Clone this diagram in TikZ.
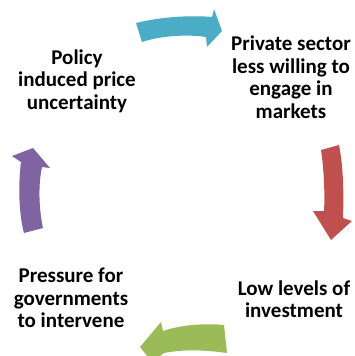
\documentclass[tikz,border=0pt]{standalone}
\usepackage{fontspec}
\setmainfont{Carlito}
\definecolor{cteal}{HTML}{4BACC6}
\definecolor{cred}{HTML}{C0504D}
\definecolor{cgreen}{HTML}{9BBB59}
\definecolor{cpurple}{HTML}{8064A2}
\tikzset{
  lbl/.style={align=center, font=\bfseries\fontsize{21}{22.5}\selectfont, inner sep=0pt},
}
\begin{document}
\begin{tikzpicture}[x=1pt,y=-1pt]
\useasboundingbox (0,0) rectangle (354,356);
\clip (0,0) rectangle (354,356);
% top arrow
\fill[cteal] (136,23) .. controls (160,17) and (190,15) .. (212,17) -- (214,9) -- (222,31) -- (207,47) -- (206,37) .. controls (185,34) and (160,36) .. (142,42) -- cycle;
% right arrow
\fill[cred] (321,150) .. controls (324,170) and (325,195) .. (324,211) -- (313,211) -- (331,240) -- (352,221) -- (343,218) .. controls (344,190) and (343,165) .. (339,145) -- cycle;
% bottom arrow
\fill[cgreen] (224,325) .. controls (205,323) and (180,325) .. (163,331) -- (161,322) -- (140,347) -- (152,362) -- (164,353) .. controls (185,349) and (205,350) .. (227,353) -- cycle;
% left arrow
\fill[cpurple] (24,233) .. controls (19,215) and (18,185) .. (21,162) -- (12,156) -- (33,148) -- (50,168) -- (42,167) .. controls (38,185) and (39,210) .. (43,228) -- cycle;
\node[lbl] (policy) at (77,81) {Policy\\induced price\\uncertainty};
\node[lbl] (private) at (291,77) {Private sector\\less willing to\\engage in\\markets};
\node[lbl] (low) at (294,299) {Low levels of\\investment};
\node[lbl] (pressure) at (71,298) {Pressure for\\governments\\to intervene};
\end{tikzpicture}
\end{document}
